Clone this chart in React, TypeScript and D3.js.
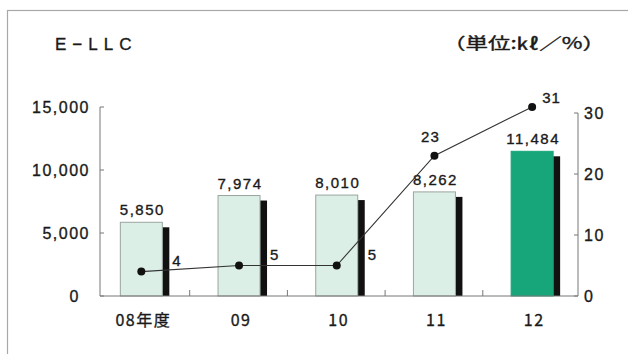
import React from "react";
import * as d3 from "d3";

const categories = ["08年度", "09", "10", "11", "12"];
const volumes = [5850, 7974, 8010, 8262, 11484];
const rates = [4, 5, 5, 23, 31];
const leftTicks = [0, 5000, 10000, 15000];
const rightTicks = [0, 10, 20, 30];
const highlight = [false, false, false, false, true];
const rateLabelPlacement = ["right", "right", "right", "above", "aboveRight"];

const W = 628;
const H = 354;
const FONT = "'Liberation Sans', Arial, sans-serif";
const CJK = "'Noto Sans CJK JP', 'Liberation Sans', sans-serif";
const TXT = { fill: "#1a1a1a", stroke: "#1a1a1a", strokeWidth: 0.35 };

export default function App() {
  const x = d3.scaleBand<string>().domain(categories).range([92, 580.5]).paddingInner(0);
  const bw = x.bandwidth();
  const yL = d3.scaleLinear().domain([0, 15000]).range([296, 107]);
  const yR = d3.scaleLinear().domain([0, 30]).range([296, 113]);
  const barOff = bw * 0.29;
  const barW = 42;
  const shW = 7;
  const cx = (c: string) => (x(c) as number) + barOff + barW / 2;
  const fmt = d3.format(",");
  const line = d3
    .line<number>()
    .x((_, i) => cx(categories[i]))
    .y((d) => yR(d));

  return (
    <svg
      width={W}
      height={H}
      style={{ position: "absolute", left: 0, top: 0, background: "#fff" }}
    >
      <rect x={7.5} y={10.5} width={700} height={400} fill="#fff" stroke="#a8a8a8" strokeWidth={1.2} />
      <text x={55} y={50} fontFamily={FONT} fontSize={17} letterSpacing={6} {...TXT}>
        E−LLC
      </text>
      <text x={443} y={49} fontFamily={CJK} fontSize={16} {...TXT} textLength={162} lengthAdjust="spacingAndGlyphs">
        （単位:㎘／%）
      </text>

      {/* bars */}
      {categories.map((c, i) => {
        const bx = (x(c) as number) + barOff;
        const top = yL(volumes[i]);
        return (
          <g key={c}>
            <rect x={bx + barW} y={top + 5} width={shW} height={yL(0) - top - 5} fill="#111" />
            <rect
              x={bx}
              y={top}
              width={barW}
              height={yL(0) - top}
              fill={highlight[i] ? "#17a679" : "#dcefe7"}
              stroke={highlight[i] ? "#17a679" : "#9aa5a0"}
              strokeWidth={1}
            />
            <text
              x={bx + barW / 2 + 1}
              y={top - 7}
              textAnchor="middle"
              fontFamily={FONT}
              fontSize={15}
              letterSpacing={1.5}
              {...TXT}
            >
              {fmt(volumes[i])}
            </text>
          </g>
        );
      })}

      {/* axes */}
      <line x1={100} x2={100} y1={yL(15000)} y2={yL(0)} stroke="#777" />
      <line x1={578} x2={578} y1={yR(30)} y2={yR(0)} stroke="#777" />
      <line x1={100} x2={578} y1={296} y2={296} stroke="#777" />
      {categories.slice(1).map((c) => (
        <line key={c} x1={x(c) as number} x2={x(c) as number} y1={296} y2={290} stroke="#777" />
      ))}
      {leftTicks.map((t) => (
        <g key={t}>
          <line x1={100} x2={104} y1={yL(t)} y2={yL(t)} stroke="#777" />
          <text
            x={t === 0 ? 80 : 90}
            y={yL(t) + 6}
            textAnchor="end"
            fontFamily={FONT}
            fontSize={16}
            letterSpacing={1.5}
            {...TXT}
          >
            {fmt(t)}
          </text>
        </g>
      ))}
      {rightTicks.map((t) => (
        <g key={t}>
          <line x1={574} x2={578} y1={yR(t)} y2={yR(t)} stroke="#777" />
          <text x={584} y={yR(t) + 6} fontFamily={FONT} fontSize={16} letterSpacing={1.5} {...TXT}>
            {t}
          </text>
        </g>
      ))}

      {/* x labels */}
      {categories.map((c) => (
        <text
          key={c}
          x={cx(c) + 2}
          y={326}
          textAnchor="middle"
          fontFamily={CJK}
          fontSize={16}
          letterSpacing={1.5}
          {...TXT}
        >
          {c}
        </text>
      ))}

      {/* line */}
      <path d={line(rates) || ""} fill="none" stroke="#333" strokeWidth={1.1} />
      {rates.map((r, i) => {
        const px = cx(categories[i]);
        const py = yR(r);
        const p = rateLabelPlacement[i];
        let lx = px;
        let ly = py;
        let anchor = "middle";
        if (p === "right") {
          lx = (x(categories[i]) as number) + barOff + barW + shW + 3;
          ly = py - 6;
          anchor = "start";
        } else if (p === "above") {
          lx = px - 4;
          ly = py - 14;
        } else {
          lx = px + 10;
          ly = py - 4;
          anchor = "start";
        }
        return (
          <g key={i}>
            <circle cx={px} cy={py} r={4} fill="#111" />
            <text x={lx} y={ly} textAnchor={anchor} fontFamily={FONT} fontSize={15} letterSpacing={1} {...TXT}>
              {r}
            </text>
          </g>
        );
      })}
    </svg>
  );
}
